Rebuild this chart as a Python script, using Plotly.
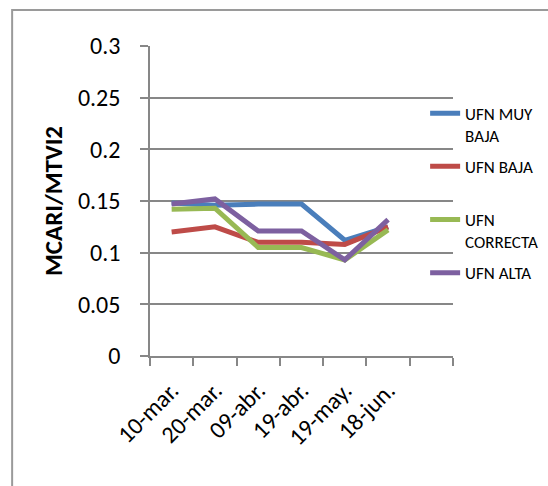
import plotly.graph_objects as go

# Sampling dates (the trailing blank slot leaves an empty category at the right)
fechas = ["10-mar.", "20-mar.", "09-abr.", "19-abr.", "19-may.", "18-jun.", " "]

ufn_muy_baja = [0.148, 0.146, 0.147, 0.147, 0.112, 0.125]
ufn_baja = [0.120, 0.125, 0.110, 0.110, 0.108, 0.125]
ufn_correcta = [0.142, 0.143, 0.105, 0.105, 0.093, 0.122]
ufn_alta = [0.147, 0.152, 0.121, 0.121, 0.093, 0.132]

series = [
    ("UFN MUY<br>BAJA", ufn_muy_baja, "#4A7EBB"),
    ("UFN BAJA<br> ", ufn_baja, "#BE4B48"),
    ("UFN<br>CORRECTA", ufn_correcta, "#98B954"),
    ("UFN ALTA<br> ", ufn_alta, "#7D60A0"),
]

FONT = "Calibri, Carlito, Lato, sans-serif"
GRAY = "#878787"

fig = go.Figure()
for i, (name, vals, color) in enumerate(series):
    fig.add_trace(go.Scatter(
        x=fechas[:len(vals)], y=vals, name=name, mode="lines",
        line=dict(color=color, width=5), legendgroup=f"g{i}",
    ))

fig.update_layout(
    width=548, height=486,
    margin=dict(l=150, r=95, t=46, b=130, autoexpand=False),
    paper_bgcolor="white", plot_bgcolor="white",
    font=dict(family=FONT, color="black"),
    showlegend=True,
    legend=dict(
        x=0.908, y=0.84, xanchor="left", yanchor="top",
        bgcolor="rgba(0,0,0,0)", font=dict(size=17, family=FONT),
        valign="top", tracegroupgap=6, traceorder="grouped",
    ),
    xaxis=dict(
        type="category", categoryorder="array", categoryarray=fechas,
        range=[-0.5, 6.5], tickson="boundaries",
        ticks="outside", ticklen=8, tickcolor=GRAY, tickwidth=1.5,
        showline=True, linecolor=GRAY, linewidth=1.5,
        showgrid=False, tickangle=-45, tickfont=dict(size=24),
        ticklabelstandoff=9,
    ),
    yaxis=dict(
        range=[0, 0.3], tickvals=[0, 0.05, 0.1, 0.15, 0.2, 0.25, 0.3],
        ticktext=["0", "0.05", "0.1", "0.15", "0.2", "0.25", "0.3"],
        ticks="outside", ticklen=8, tickcolor=GRAY, tickwidth=1.5,
        showline=True, linecolor=GRAY, linewidth=1.5,
        showgrid=True, gridcolor=GRAY, gridwidth=1.5,
        zeroline=False, tickfont=dict(size=24),
        ticklabelstandoff=15,
        title=dict(text="<b>MCARI/MTVI2</b>", font=dict(size=25), standoff=8),
    ),
)

# Chart-area frame
fig.add_shape(type="rect", xref="paper", yref="paper",
              x0=-0.455, y0=-2, x1=3, y1=1.116,
              line=dict(color="#9A9A9A", width=2), layer="below")

fig.write_html("out.html")
